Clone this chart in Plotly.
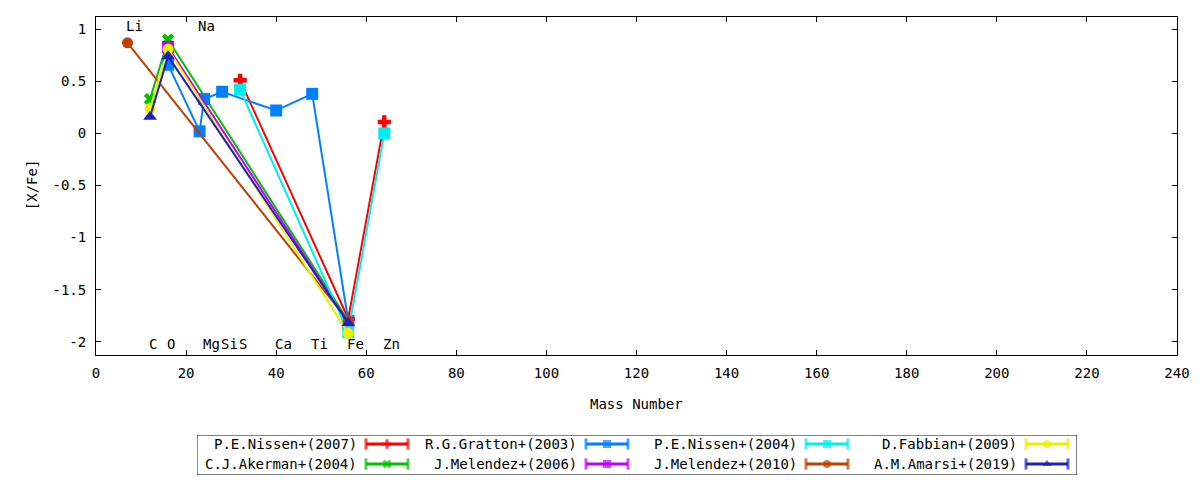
import plotly.graph_objects as go

# mass numbers of the plotted elements
elem_names = ["Li", "C", "O", "Na", "Mg", "Si", "S", "Ca", "Ti", "Fe", "Zn"]
elem_mass = [7, 12, 16, 23, 24, 28, 32, 40, 48, 56, 64]
elem_top = ["Li", "Na"]

# series, in plotting order
nissen07_x = [32, 56, 64]
nissen07_y = [0.51, -1.78, 0.11]
akerman04_x = [12, 16, 56]
akerman04_y = [0.33, 0.90, -1.80]
gratton03_x = [16, 23, 24, 28, 40, 48, 56]
gratton03_y = [0.66, 0.02, 0.33, 0.40, 0.22, 0.38, -1.80]
melendez06_x = [16, 56]
melendez06_y = [0.83, -1.82]
nissen04_x = [32, 56, 64]
nissen04_y = [0.42, -1.91, 0.00]
melendez10_x = [7, 56]
melendez10_y = [0.87, -1.80]
fabbian09_x = [12, 16, 56]
fabbian09_y = [0.24, 0.81, -1.92]
amarsi19_x = [12, 16, 56]
amarsi19_y = [0.16, 0.74, -1.82]

series = [
    ("P.E.Nissen+(2007)", nissen07_x, nissen07_y, "#ff0000", "cross", 11),
    ("C.J.Akerman+(2004)", akerman04_x, akerman04_y, "#00c000", "x", 11),
    ("R.G.Gratton+(2003)", gratton03_x, gratton03_y, "#0080ff", "square", 12),
    ("J.Melendez+(2006)", melendez06_x, melendez06_y, "#c000ff", "square", 12),
    ("P.E.Nissen+(2004)", nissen04_x, nissen04_y, "#00eeee", "square", 12),
    ("J.Melendez+(2010)", melendez10_x, melendez10_y, "#c04000", "circle", 11),
    ("D.Fabbian+(2009)", fabbian09_x, fabbian09_y, "#eeee00", "circle", 11),
    ("A.M.Amarsi+(2019)", amarsi19_x, amarsi19_y, "#2020c0", "triangle-up", 12),
]

yticks = [-2, -1.5, -1, -0.5, 0, 0.5, 1]
yticklabels = ["-2", "-1.5", "-1", "-0.5", "0", "0.5", "1"]

FONT = "DejaVu Sans Mono"

fig = go.Figure()

for name, xs, ys, col, sym, sz in series:
    fig.add_trace(go.Scatter(
        x=xs, y=ys, mode="lines+markers", name=name,
        line=dict(color=col, width=2),
        marker=dict(symbol=sym, size=sz, color=col, line=dict(width=0)),
        showlegend=False,
    ))

# element labels
for nm, a in zip(elem_names, elem_mass):
    fig.add_annotation(
        x=a - 0.7, y=1.03 if nm in elem_top else -2.02,
        text=nm, showarrow=False, xanchor="left", yanchor="middle",
        font=dict(family=FONT, size=14, color="black"),
    )

# hand-made key in gnuplot style (text left, sample right), column-major
col_w = 220
key_left = 197
for i, (name, xs, ys, col, sym, sz) in enumerate(series):
    c, r = divmod(i, 2)
    ty = 444 if r == 0 else 464
    tx = key_left + 159 + c * col_w
    fig.add_annotation(
        x=tx + 3, y=ty, xref="x2", yref="y2", text=name, showarrow=False,
        xanchor="right", yanchor="middle",
        font=dict(family=FONT, size=14, color="black"),
    )
    x0 = tx + 10
    fig.add_trace(go.Scatter(
        x=[x0, x0 + 21, x0 + 42], y=[ty, ty, ty], xaxis="x2", yaxis="y2",
        mode="lines+markers", showlegend=False, hoverinfo="skip",
        line=dict(color=col, width=3),
        marker=dict(symbol=["line-ns", sym, "line-ns"], size=[8, 8, 8], color=col,
                    line=dict(color=col, width=[3, 0, 3])),
    ))

fig.add_shape(type="rect", xref="x2", yref="y2", x0=197, x1=1077, y0=435, y1=475,
              line=dict(color="black", width=1))

fig.add_annotation(x=0.5, y=0.1605, xref="paper", yref="paper", text="Mass Number",
                   xanchor="center", yanchor="middle", showarrow=False,
                   font=dict(family=FONT, size=14, color="black"))
fig.add_annotation(x=-0.059, y=0.6356, xref="paper", yref="paper", text="[X/Fe]",
                   xanchor="center", yanchor="middle", textangle=-90, showarrow=False,
                   font=dict(family=FONT, size=14, color="black"))

axis_common = dict(
    showline=True, linecolor="black", linewidth=1, mirror="ticks",
    ticks="inside", ticklen=5, tickcolor="black", showgrid=False, zeroline=False,
    tickfont=dict(family=FONT, size=14, color="black"),
)

fig.update_layout(
    width=1200, height=480,
    margin=dict(l=88, r=31, t=9, b=10),
    paper_bgcolor="white", plot_bgcolor="white",
    xaxis=dict(range=[0, 240], dtick=20, anchor="y", ticklabelstandoff=5, **axis_common),
    yaxis=dict(range=[-2.128, 1.118], tickvals=yticks, ticktext=yticklabels,
               domain=[0.2668, 1], anchor="x", ticklabelstandoff=6, **axis_common),
    xaxis2=dict(range=[197, 1077], domain=[0.0934, 0.9075], visible=False,
                anchor="y2", fixedrange=True),
    yaxis2=dict(range=[475, 435], domain=[0.0065, 0.0933], visible=False,
                anchor="x2", fixedrange=True),
    showlegend=False,
)

fig.write_html("out.html")
